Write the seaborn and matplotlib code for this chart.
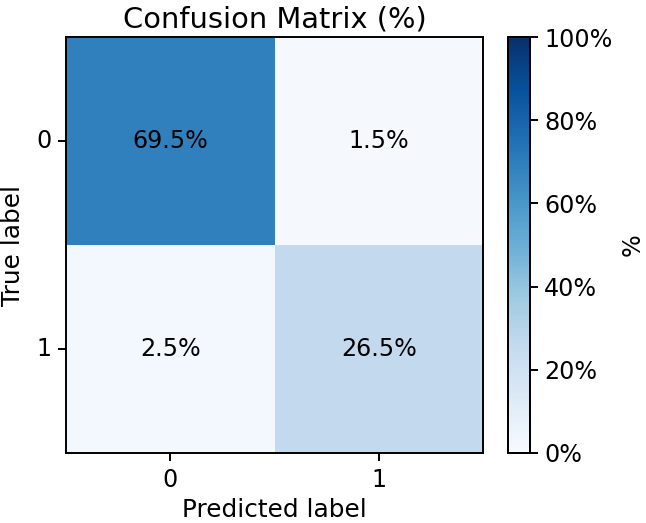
import matplotlib
matplotlib.use("Agg")

import matplotlib.pyplot as plt
import numpy as np
import pandas as pd
import seaborn as sns
from matplotlib.ticker import FuncFormatter

LABELS = ["0", "1"]
ROW_0 = [69.5, 1.5]
ROW_1 = [2.5, 26.5]

FS = 17.2
LW = 1.4

cm = pd.DataFrame([ROW_0, ROW_1], index=LABELS, columns=LABELS)
annot = cm.map(lambda v: f"{v:.1f}%")

fig = plt.figure(figsize=(6.46, 5.23), dpi=100)
ax = fig.add_axes([0.102, 0.134, 0.646, 0.795])
cax = fig.add_axes([0.786, 0.134, 0.034, 0.795])

sns.heatmap(cm, annot=annot, fmt="", cmap="Blues", vmin=0, vmax=100,
            ax=ax, cbar_ax=cax, annot_kws={"size": FS, "color": "black"},
            cbar_kws={"format": FuncFormatter(lambda v, _: f"{v:.0f}%")})

for s in ax.spines.values():
    s.set_visible(True)
    s.set_linewidth(LW)
cax.set_frame_on(True)
for s in cax.spines.values():
    s.set_visible(True)
    s.set_linewidth(LW)

ax.set_title("Confusion Matrix (%)", fontsize=20.8, pad=7)
ax.set_xlabel("Predicted label", fontsize=FS + 0.6, labelpad=5)
ax.set_ylabel("True label", fontsize=FS + 0.6, labelpad=8)
ax.tick_params(labelsize=FS, length=5.5, width=LW, pad=5)
ax.set_yticklabels(LABELS, rotation=0)
cax.tick_params(labelsize=FS, length=5.5, width=LW, pad=5)
cax.set_ylabel("%", fontsize=FS, labelpad=6)

fig.savefig("out.png", dpi=100)
